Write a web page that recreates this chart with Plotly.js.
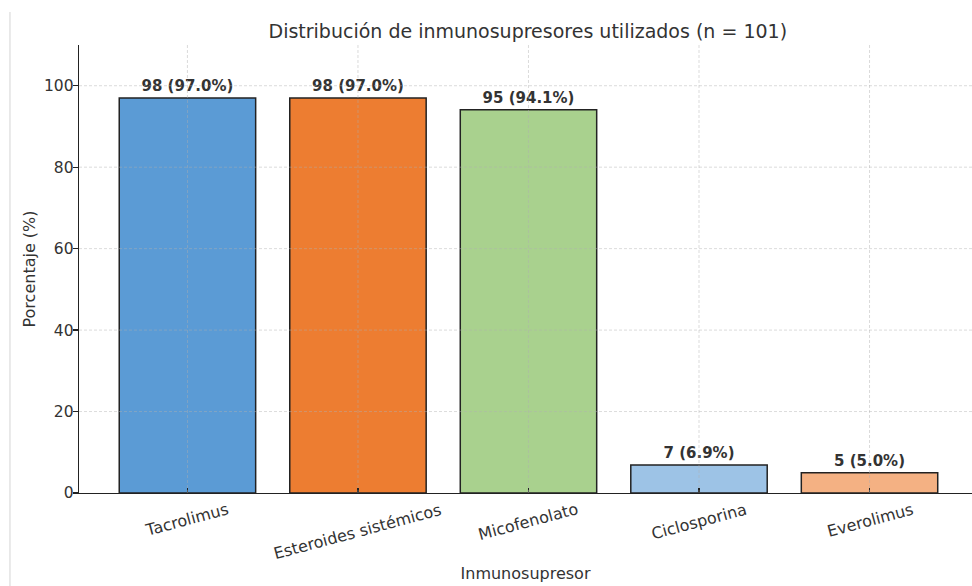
<!DOCTYPE html>
<html>
<head>
<meta charset="utf-8">
<script src="https://cdn.plot.ly/plotly-3.0.1.min.js"></script>
<style>html,body{margin:0;padding:0;background:#fff;}#chart{width:972px;height:586px;}</style>
</head>
<body>
<div id="chart"></div>
<script>
// ---- data ----
const categories = ["Tacrolimus", "Esteroides sistémicos", "Micofenolato", "Ciclosporina", "Everolimus"];
const counts = [98, 98, 95, 7, 5];
const percentages = [97.0, 97.0, 94.1, 6.9, 5.0];
const barColors = ["#5B9BD5", "#ED7D31", "#A9D18E", "#9DC3E6", "#F4B183"];
const yTicks = [0, 20, 40, 60, 80, 100];
const chartTitle = "Distribución de inmunosupresores utilizados (n = 101)";
const xTitle = "Inmunosupresor";
const yTitle = "Porcentaje (%)";

const FONT = "DejaVu Sans, Verdana, sans-serif";
const TXT = "#333333";
const idx = categories.map((_, i) => i);
const labels = counts.map((c, i) => c + " (" + percentages[i].toFixed(1) + "%)");

const trace = {
  type: "bar",
  x: idx,
  y: percentages,
  text: labels,
  textposition: "outside",
  constraintext: "none",
  cliponaxis: false,
  textfont: {family: FONT, size: 15, color: TXT, weight: "bold"},
  marker: {color: barColors, line: {color: "#222222", width: 1.5}},
  hoverinfo: "none"
};

const gridStyle = {color: "rgba(176,176,176,0.45)", width: 1, dash: "3px,2px"};
const shapes = [];
idx.forEach(i => shapes.push({type: "line", xref: "x", yref: "paper", x0: i, x1: i, y0: 0, y1: 1, layer: "above", line: gridStyle}));
yTicks.forEach(v => { if (v > 0) shapes.push({type: "line", xref: "paper", yref: "y", x0: 0, x1: 1, y0: v, y1: v, layer: "above", line: gridStyle}); });
// thin frame line at the left edge of the picture
shapes.push({type: "line", xref: "paper", yref: "paper", x0: -0.0773, x1: -0.0773, y0: 1.0737, y1: -0.21, layer: "above", line: {color: "#d4d4d4", width: 1}});

const annotations = categories.map((c, i) => ({
  x: i, y: 0, xref: "x", yref: "y",
  text: c, showarrow: false, textangle: -15,
  xanchor: "center", yanchor: "top", yshift: -4,
  font: {family: FONT, size: 16, color: TXT}
}));

const layout = {
  width: 972, height: 586,
  margin: {l: 79, r: 0, t: 45, b: 93},
  paper_bgcolor: "#ffffff", plot_bgcolor: "#ffffff",
  showlegend: false,
  bargap: 0.2,
  font: {family: FONT, color: TXT},
  title: {text: chartTitle, font: {family: FONT, size: 19, color: TXT},
          x: 0.543, xref: "container", xanchor: "center", y: 0.947, yref: "container", yanchor: "middle"},
  xaxis: {
    type: "linear", range: [-0.636, 4.601],
    tickvals: idx, showticklabels: false,
    ticks: "inside", ticklen: 5, tickcolor: "#222222", tickwidth: 1.2,
    showgrid: false, zeroline: false,
    showline: true, linecolor: "#222222", linewidth: 1.3,
    title: {text: xTitle, font: {family: FONT, size: 16, color: TXT}, standoff: 74}
  },
  yaxis: {
    range: [0, 110], tickvals: yTicks,
    ticks: "outside", ticklen: 5, tickcolor: "#222222", tickwidth: 1.2,
    ticklabelstandoff: -4,
    tickfont: {family: FONT, size: 15.5, color: TXT},
    showgrid: false, zeroline: false,
    showline: true, linecolor: "#222222", linewidth: 1.3,
    title: {text: yTitle, font: {family: FONT, size: 16, color: TXT}, standoff: 4}
  },
  shapes: shapes,
  annotations: annotations
};

Plotly.newPlot("chart", [trace], layout, {displayModeBar: false, staticPlot: true});
</script>
</body>
</html>
